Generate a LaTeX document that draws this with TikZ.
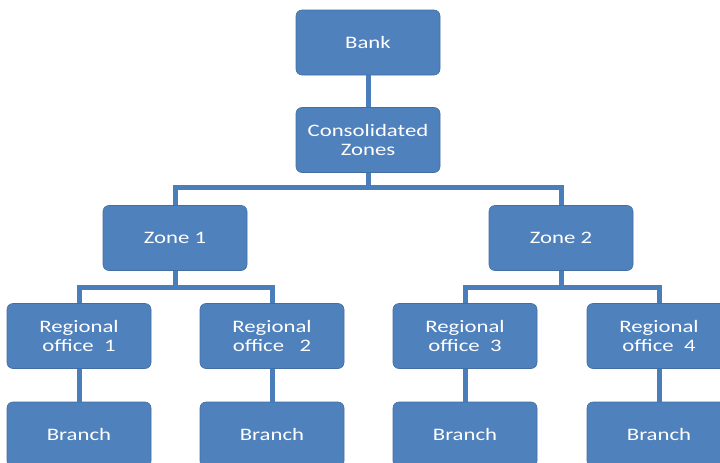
\documentclass[tikz,border=0pt]{standalone}
\usepackage{fontspec}
\setmainfont[FakeStretch=1.3]{Carlito}
\definecolor{boxblue}{HTML}{4F81BD}
\definecolor{lineblue}{HTML}{4A7EBB}
\begin{document}
\begin{tikzpicture}[x=1pt,y=1pt,
  orgbox/.style={draw=boxblue!85!black, line width=0.6pt, fill=boxblue, rounded corners=6pt,
    minimum width=144pt, minimum height=65pt, align=center, text=white,
    font=\fontsize{17.5}{19.5}\selectfont, inner sep=2pt},
  link/.style={draw=lineblue, line width=5pt}]
\useasboundingbox (0,0) rectangle (720,-463);
\node[orgbox] (bank) at (368,-42.5) {Bank};
\node[orgbox] (cz) at (368,-140) {Consolidated\\Zones};
\node[orgbox] (z1) at (175,-238) {Zone 1};
\node[orgbox] (z2) at (561,-238) {Zone 2};
\node[orgbox] (r1) at (79,-336) {Regional\\office\ \ 1};
\node[orgbox] (r2) at (272,-336) {Regional\\office\ \ \ 2};
\node[orgbox] (r3) at (465,-336) {Regional\\office\ \ 3};
\node[orgbox] (r4) at (659,-336) {Regional\\office\ \ 4};
\node[orgbox] (b1) at (79,-434.5) {Branch};
\node[orgbox] (b2) at (272,-434.5) {Branch};
\node[orgbox] (b3) at (465,-434.5) {Branch};
\node[orgbox] (b4) at (659,-434.5) {Branch};
\draw[link] (bank.south) -- (cz.north);
\draw[link] (cz.south) -- ++(0,-15) -| (z1.north);
\draw[link] (cz.south) -- ++(0,-15) -| (z2.north);
\draw[link] (z1.south) -- ++(0,-17) -| (r1.north);
\draw[link] (z1.south) -- ++(0,-17) -| (r2.north);
\draw[link] (z2.south) -- ++(0,-17) -| (r3.north);
\draw[link] (z2.south) -- ++(0,-17) -| (r4.north);
\draw[link] (r1.south) -- (b1.north);
\draw[link] (r2.south) -- (b2.north);
\draw[link] (r3.south) -- (b3.north);
\draw[link] (r4.south) -- (b4.north);
\end{tikzpicture}
\end{document}
